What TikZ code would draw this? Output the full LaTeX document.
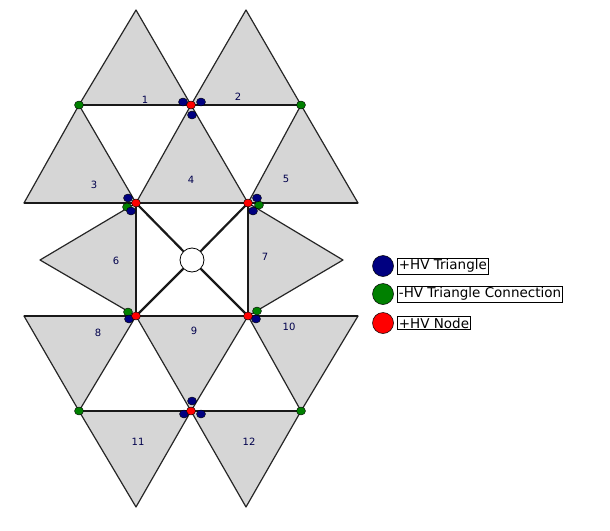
\documentclass[tikz,border=0pt]{standalone}
\usepackage{fontspec}
\usetikzlibrary{shapes.geometric}
\setmainfont{DejaVu Sans}
\begin{document}
\begin{tikzpicture}[x=1pt,y=-1pt,
 tri/.style={fill=black!16,draw=black!85,line width=1.2pt,line join=round},
 bar/.style={draw=black!90,line width=2.2pt},
 lbl/.style={font=\fontsize{10}{10}\selectfont,text=black!70!blue},
 dot/.style={ellipse,draw=black,line width=0.4pt,minimum width=9pt,minimum height=8pt,inner sep=0pt},
 bd/.style={dot,fill=blue!50!black},
 gd/.style={dot,fill=green!50!black},
 rd/.style={dot,fill=red},
 leg/.style={draw=black,line width=0.8pt,inner sep=1.5pt,font=\fontsize{13.5}{13.5}\selectfont,anchor=west}]
\useasboundingbox (0,0) rectangle (610,530);
% triangles
\filldraw[tri] (79,105)--(191,105)--(136,10)--cycle;
\filldraw[tri] (191,105)--(301,105)--(246,10)--cycle;
\filldraw[tri] (24,203)--(136,203)--(79,105)--cycle;
\filldraw[tri] (136,203)--(248,203)--(191,105)--cycle;
\filldraw[tri] (248,203)--(358,203)--(301,105)--cycle;
\filldraw[tri] (136,203)--(136,316)--(40,260)--cycle;
\filldraw[tri] (248,203)--(248,316)--(343,260)--cycle;
\filldraw[tri] (24,316)--(136,316)--(79,411)--cycle;
\filldraw[tri] (136,316)--(248,316)--(191,411)--cycle;
\filldraw[tri] (248,316)--(358,316)--(301,411)--cycle;
\filldraw[tri] (79,411)--(191,411)--(136,507)--cycle;
\filldraw[tri] (191,411)--(301,411)--(246,507)--cycle;
% center
\node[circle,draw=black,fill=white,minimum size=24pt,inner sep=0pt,line width=0.8pt] (c) at (192,260) {};
\coordinate (a) at (136,203); \coordinate (b) at (248,203);
\coordinate (d) at (136,316); \coordinate (e) at (248,316);
\draw[bar] (79,105)--(301,105);
\draw[bar] (24,203)--(358,203);
\draw[bar] (24,316)--(358,316);
\draw[bar] (79,411)--(301,411);
\draw[bar] (a)--(d) (b)--(e);
\draw[bar] (a)--(c) (b)--(c) (d)--(c) (e)--(c);
% labels
\foreach \t/\x/\y in {1/145/100,2/238/97,3/94/185,4/191/180,5/286/179,6/116/261,7/265/257,8/98/333,9/194/331,10/289/327,11/138/442,12/249/442}
  \node[lbl] (l\t) at (\x,\y) {\t};
% dots
\foreach \x/\y [count=\i] in {79/105,301/105,79/411,301/411,127/207,259/205,128/312,257/311}
  \node[gd] (g\i) at (\x,\y) {};
\foreach \x/\y [count=\i] in {183/102,201/102,192/115,128/198,131/211,257/198,253/211,129/319,256/319,192/401,184/414,201/414}
  \node[bd] (bl\i) at (\x,\y) {};
\foreach \x/\y [count=\i] in {191/105,136/203,248/203,136/316,248/316,191/411}
  \node[rd] (r\i) at (\x,\y) {};
% legend
\node[circle,draw=black,line width=0.5pt,fill=blue!50!black,minimum size=21pt,inner sep=0pt] (L1) at (383,266) {};
\node[circle,draw=black,line width=0.5pt,fill=green!50!black,minimum size=21pt,inner sep=0pt] (L2) at (383,294) {};
\node[circle,draw=black,line width=0.5pt,fill=red,minimum size=21pt,inner sep=0pt] (L3) at (383,323) {};
\node[leg] (T1) at (397,266) {+HV Triangle};
\node[leg] (T2) at (397,294) {-HV Triangle Connection};
\node[leg] (T3) at (397,323) {+HV Node};
\end{tikzpicture}
\end{document}
